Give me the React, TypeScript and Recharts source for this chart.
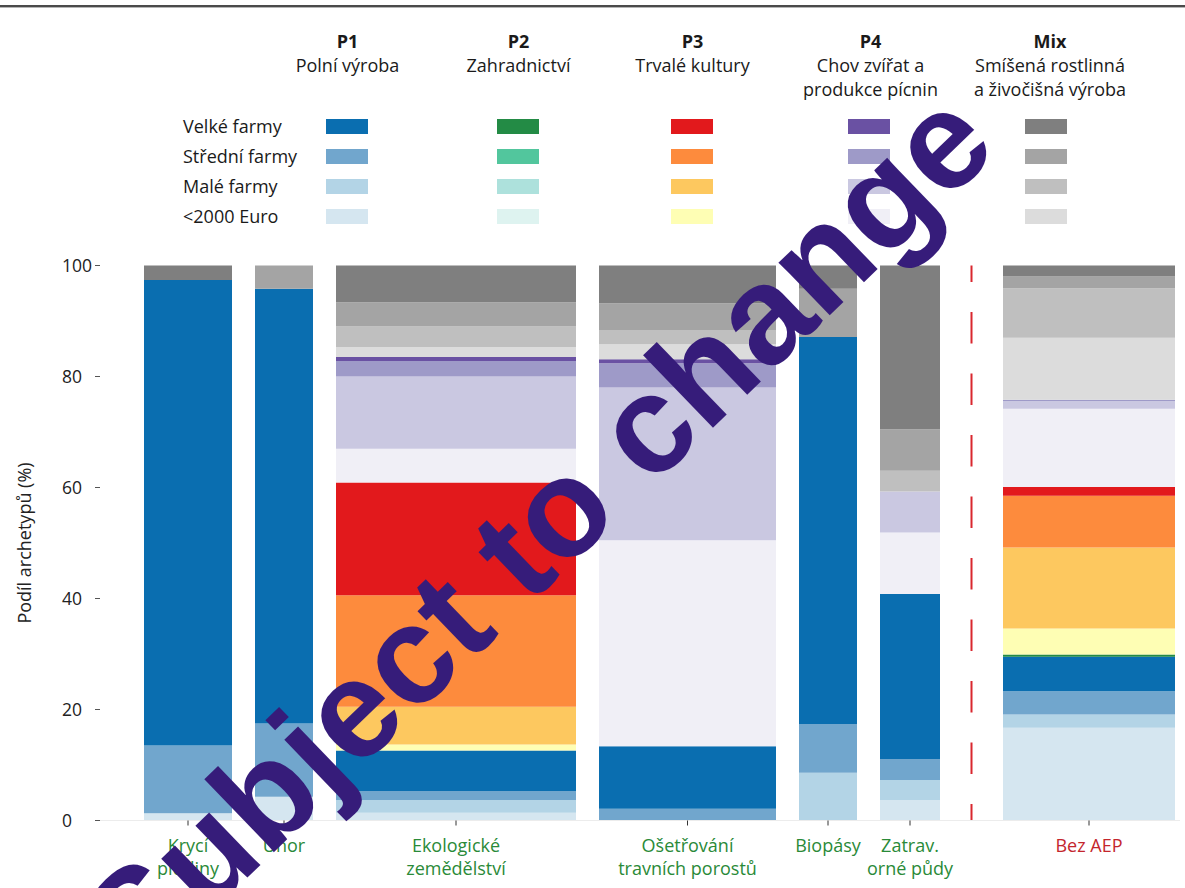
import React from 'react';
import { ComposedChart, Area, XAxis, YAxis, ReferenceLine } from 'recharts';

// ---------- data ----------
const categories = [
  'Krycí plodiny',
  'Úhor',
  'Ekologické zemědělství',
  'Ošetřování travních porostů',
  'Biopásy',
  'Zatrav. orné půdy',
  'Bez AEP',
];
const categoryLines = [
  ['Krycí', 'plodiny'],
  ['Úhor'],
  ['Ekologické', 'zemědělství'],
  ['Ošetřování', 'travních porostů'],
  ['Biopásy'],
  ['Zatrav.', 'orné půdy'],
  ['Bez AEP'],
];
// relative bar widths (mekko widths)
const barWidths = [88, 58, 240, 177, 58, 60, 172];

// segment shares (%) per category, bottom to top of each stack
const p1_u2000 = [1.3, 4.3, 1.4, 0, 0, 3.7, 16.7];
const p1_small = [0, 0, 2.3, 0, 8.6, 3.6, 2.4];
const p1_mid = [12.2, 13.2, 1.6, 2.1, 8.8, 3.8, 4.2];
const p1_large = [83.9, 78.3, 7.3, 11.3, 69.7, 29.7, 6.2];
const p2_u2000 = [0, 0, 0, 0, 0, 0, 0];
const p2_small = [0, 0, 0, 0, 0, 0, 0];
const p2_mid = [0, 0, 0, 0, 0, 0, 0];
const p2_large = [0, 0, 0, 0, 0, 0, 0.4];
const p3_u2000 = [0, 0, 1.1, 0, 0, 0, 4.7];
const p3_small = [0, 0, 6.8, 0, 0, 0, 14.6];
const p3_mid = [0, 0, 20.1, 0, 0, 0, 9.3];
const p3_large = [0, 0, 20.3, 0, 0, 0, 1.6];
const p4_u2000 = [0, 0, 6.1, 37.1, 0, 11.1, 14.1];
const p4_small = [0, 0, 13.0, 27.5, 0, 7.4, 1.4];
const p4_mid = [0, 0, 2.8, 4.4, 0, 0, 0.2];
const p4_large = [0, 0, 0.7, 0.7, 0, 0, 0];
const mix_u2000 = [0, 0, 1.8, 2.7, 0, 0, 11.2];
const mix_small = [0, 0, 3.7, 2.6, 0, 3.7, 8.9];
const mix_mid = [0, 4.2, 4.4, 4.8, 8.7, 7.5, 2.1];
const mix_large = [2.6, 0, 6.6, 6.8, 4.2, 29.5, 2.0];

const yTicks = [0, 20, 40, 60, 80, 100];

const groupCodes = ['P1', 'P2', 'P3', 'P4', 'Mix'];
const groupTitles = [
  ['Polní výroba'],
  ['Zahradnictví'],
  ['Trvalé kultury'],
  ['Chov zvířat a', 'produkce pícnin'],
  ['Smíšená rostlinná', 'a živočišná výroba'],
];
const sizeLabels = ['Velké farmy', 'Střední farmy', 'Malé farmy', '<2000 Euro'];

// colours: Velké, Střední, Malé, <2000
const p1Colors = ['#0a6eb0', '#71a6cd', '#b3d4e6', '#d5e6f0'];
const p2Colors = ['#238b45', '#52c69d', '#ade1dc', '#def3f0'];
const p3Colors = ['#e2191c', '#fd8b3d', '#fdc85f', '#fefeb4'];
const p4Colors = ['#6a51a3', '#9e9ac8', '#cac8e1', '#f0eff6'];
const mixColors = ['#7f7f7f', '#a4a4a4', '#bfbfbf', '#dcdcdc'];
const groupColors = [p1Colors, p2Colors, p3Colors, p4Colors, mixColors];

// ---------- layout ----------
const W = 1185;
const H = 888;
const GAP = 23;
const SEP_GAP = 63;
const PAD_L = 44;
const PAD_R = 5;
const FONT = "'Open Sans', 'Noto Sans', sans-serif";
const GREEN = '#2a8a38';
const RED = '#c4262d';

const starts: number[] = [];
let cursor = 0;
barWidths.forEach((w, i) => {
  if (i > 0) cursor += i === barWidths.length - 1 ? SEP_GAP : GAP;
  starts.push(cursor);
  cursor += w;
});
const ends = starts.map((s, i) => s + barWidths[i]);
const centers = starts.map((s, i) => s + barWidths[i] / 2);
const sepX = (ends[ends.length - 2] + starts[starts.length - 1]) / 2;

const series = [
  { key: 'p1_u2000', values: p1_u2000, color: p1Colors[3] },
  { key: 'p1_small', values: p1_small, color: p1Colors[2] },
  { key: 'p1_mid', values: p1_mid, color: p1Colors[1] },
  { key: 'p1_large', values: p1_large, color: p1Colors[0] },
  { key: 'p2_u2000', values: p2_u2000, color: p2Colors[3] },
  { key: 'p2_small', values: p2_small, color: p2Colors[2] },
  { key: 'p2_mid', values: p2_mid, color: p2Colors[1] },
  { key: 'p2_large', values: p2_large, color: p2Colors[0] },
  { key: 'p3_u2000', values: p3_u2000, color: p3Colors[3] },
  { key: 'p3_small', values: p3_small, color: p3Colors[2] },
  { key: 'p3_mid', values: p3_mid, color: p3Colors[1] },
  { key: 'p3_large', values: p3_large, color: p3Colors[0] },
  { key: 'p4_u2000', values: p4_u2000, color: p4Colors[3] },
  { key: 'p4_small', values: p4_small, color: p4Colors[2] },
  { key: 'p4_mid', values: p4_mid, color: p4Colors[1] },
  { key: 'p4_large', values: p4_large, color: p4Colors[0] },
  { key: 'mix_u2000', values: mix_u2000, color: mixColors[3] },
  { key: 'mix_small', values: mix_small, color: mixColors[2] },
  { key: 'mix_mid', values: mix_mid, color: mixColors[1] },
  { key: 'mix_large', values: mix_large, color: mixColors[0] },
];

const data: any[] = [];
categories.forEach((c, i) => {
  const row: any = { x: starts[i], name: c };
  const closing: any = { x: ends[i], name: c };
  series.forEach((s) => {
    row[s.key] = s.values[i];
    closing[s.key] = 0;
  });
  data.push(row, closing);
});

const XTick = (props: any) => {
  const { x, y, payload } = props;
  const i = centers.findIndex((c) => Math.abs(c - payload.value) < 0.01);
  if (i < 0) return null;
  const color = i === categories.length - 1 ? RED : GREEN;
  return (
    <text x={x} y={y} textAnchor="middle" fill={color} fontFamily={FONT} fontSize={18}>
      {categoryLines[i].map((l, k) => (
        <tspan key={k} x={x} dy={k === 0 ? 24.2 : 23.3}>
          {l}
        </tspan>
      ))}
    </text>
  );
};

const YTick = (props: any) => {
  const { x, y, payload } = props;
  return (
    <text x={x - 31} y={y} dy="0.35em" textAnchor="start" fill="#222" fontFamily={FONT} fontSize={17.5}>
      {payload.value}
    </text>
  );
};

const textCenters = [347.5, 518.5, 692.5, 870.5, 1050];
const swatchCenters = [347, 518, 692, 869, 1046];

const Legend = () => (
  <div style={{ position: 'absolute', left: 0, top: 0, width: W, height: 240, fontFamily: FONT, color: '#1a1a1a' }}>
    {groupCodes.map((code, gi) => (
      <div
        key={code}
        style={{
          position: 'absolute',
          left: textCenters[gi] - 110,
          width: 220,
          top: 29,
          textAlign: 'center',
          fontSize: 18,
          lineHeight: '24px',
          whiteSpace: 'nowrap',
        }}
      >
        <div style={{ fontWeight: 700 }}>{code}</div>
        {groupTitles[gi].map((t) => (
          <div key={t}>{t}</div>
        ))}
      </div>
    ))}
    {sizeLabels.map((s, ri) => (
      <div
        key={s}
        style={{
          position: 'absolute',
          left: 183,
          top: 113.7 + ri * 30,
          fontSize: 18,
          lineHeight: '24px',
          whiteSpace: 'nowrap',
        }}
      >
        {s}
      </div>
    ))}
    {groupColors.map((cols, gi) =>
      cols.map((c, ri) => (
        <div
          key={gi + '-' + ri}
          style={{
            position: 'absolute',
            left: swatchCenters[gi] - 21,
            top: 119 + ri * 30,
            width: 42,
            height: 15,
            background: c,
          }}
        />
      ))
    )}
  </div>
);

export default function App() {
  return (
    <div style={{ position: 'absolute', left: 0, top: 0, width: W, height: H, background: '#fff', overflow: 'hidden' }}>
      <div style={{ position: 'absolute', left: 0, top: 5, width: W, height: 2, background: '#4a4a4a' }} />
      <div style={{ position: 'absolute', left: 0, top: 7, width: W, height: 1, background: '#b5b5b5' }} />
      <Legend />
      <div
        style={{
          position: 'absolute',
          left: 24 - 150,
          top: 543 - 12,
          width: 300,
          height: 24,
          lineHeight: '24px',
          textAlign: 'center',
          transform: 'rotate(-90deg)',
          fontFamily: FONT,
          fontSize: 18,
          color: '#222',
          whiteSpace: 'nowrap',
        }}
      >
        Podíl archetypů (%)
      </div>
      <div style={{ position: 'absolute', left: 0, top: 0 }}>
        <ComposedChart width={W} height={H} data={data} margin={{ top: 265.5, right: PAD_R, bottom: 7.5, left: 40 }}>
          <XAxis
            dataKey="x"
            type="number"
            domain={[-PAD_L, ends[ends.length - 1] + PAD_R]}
            ticks={centers}
            interval={0}
            height={60}
            tick={<XTick />}
            tickSize={5}
            tickLine={{ stroke: '#333' }}
            axisLine={{ stroke: '#ececec' }}
            allowDataOverflow
          />
          <YAxis
            type="number"
            domain={[0, 100]}
            ticks={yTicks}
            width={60}
            axisLine={false}
            tickSize={5}
            tickLine={{ stroke: '#555' }}
            tick={<YTick />}
            interval={0}
          />
          {series.map((s) => (
            <Area
              key={s.key}
              type="stepAfter"
              dataKey={s.key}
              stackId="mekko"
              stroke="none"
              fill={s.color}
              fillOpacity={1}
              dot={false}
              activeDot={false}
              isAnimationActive={false}
            />
          ))}
          <ReferenceLine x={sepX} stroke="#d9272e" strokeWidth={2} strokeDasharray="31.5 30" strokeDashoffset={15} />
        </ComposedChart>
      </div>
      <svg width={W} height={H} style={{ position: 'absolute', left: 0, top: 0, pointerEvents: 'none' }}>
        <text
          x={570}
          y={566}
          transform="rotate(-44 570 566)"
          textAnchor="middle"
          fontFamily="'Liberation Sans', Arial, sans-serif"
          fontWeight="bold"
          fontSize={139}
          fill="#361c7a"
        >
          Subject to change
        </text>
      </svg>
    </div>
  );
}
